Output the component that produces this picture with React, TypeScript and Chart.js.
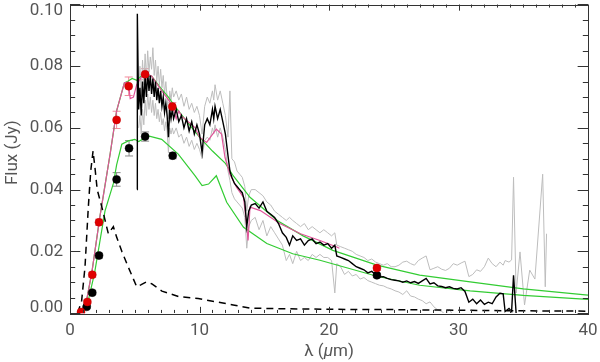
import React, { useEffect, useRef } from "react";
import { Chart, registerables } from "chart.js";
Chart.register(...registerables);

// ---- axis ticks ----
const xTickValues = [0, 10, 20, 30, 40];
const xTickLabels = ["0", "10", "20", "30", "40"];
const yTickValues = [0, 0.02, 0.04, 0.06, 0.08, 0.1];
const yTickLabels = ["0.00", "0.02", "0.04", "0.06", "0.08", "0.10"];
const xMinorStep = 1;
const yMinorStep = 0.005;
const xTitle = ["λ (", "μ", "m)"];
const yTitle = "Flux (Jy)";

// ---- IRS spectrum (black) with upper / lower envelopes (grey) ----
const specWave = [
  5.18, 5.2, 5.3, 5.4, 5.5, 5.6, 5.7, 5.8, 5.9, 6.0, 6.1, 6.2, 6.3, 6.4, 6.5, 6.6, 6.7, 6.8, 6.9, 7.0,
  7.1, 7.2, 7.3, 7.4, 7.5, 7.6, 7.7, 7.8, 7.9, 8.0, 8.2, 8.4, 8.6, 8.8, 9.0, 9.2, 9.4, 9.6, 9.8, 10.0,
  10.2, 10.4, 10.6, 10.8, 11.0, 11.1, 11.2, 11.4, 11.6, 11.8, 12.0, 12.2, 12.35, 12.5, 12.7, 12.9, 13.1, 13.3, 13.5, 13.65,
  13.8, 14.0, 14.3, 14.6, 14.9, 15.2, 15.5, 15.8, 16.1, 16.4, 16.7, 16.95, 17.2, 17.5, 17.8, 18.1, 18.4, 18.7, 19.0, 19.3,
  19.6, 19.9, 20.2, 20.45, 20.6, 20.9, 21.2, 21.5, 21.8, 22.1, 22.4, 22.7, 23.0, 23.3, 23.6, 23.9, 24.2, 24.5, 24.8, 25.1,
  25.4, 25.7, 26.0, 26.3, 26.6, 26.9, 27.2, 27.5, 27.8, 28.1, 28.4, 28.7, 29.0, 29.3, 29.6, 29.9, 30.2, 30.5, 30.8, 31.1,
  31.4, 31.7, 32.0, 32.3, 32.6, 32.9, 33.2, 33.45, 33.6, 33.9, 34.1, 34.25, 34.45, 34.75, 35.1, 35.5, 35.9, 36.5, 36.7, 36.8,
];
const specFlux = [
  0.040, 0.097, 0.066, 0.073, 0.064, 0.075, 0.068, 0.077, 0.070, 0.078, 0.072, 0.077, 0.071, 0.076, 0.070, 0.075, 0.069, 0.073, 0.068, 0.072,
  0.067, 0.070, 0.065, 0.068, 0.064, 0.057, 0.066, 0.063, 0.066, 0.063, 0.066, 0.062, 0.064, 0.060, 0.063, 0.059, 0.062, 0.058, 0.061, 0.058,
  0.052, 0.061, 0.063, 0.061, 0.066, 0.063, 0.067, 0.063, 0.066, 0.062, 0.058, 0.051, 0.046, 0.044, 0.042, 0.041, 0.040, 0.039, 0.036, 0.028,
  0.033, 0.035, 0.0355, 0.034, 0.036, 0.033, 0.032, 0.031, 0.029, 0.026, 0.0245, 0.022, 0.025, 0.0235, 0.024, 0.022, 0.0235, 0.024, 0.0225, 0.023,
  0.022, 0.0225, 0.021, 0.022, 0.0185, 0.018, 0.0175, 0.017, 0.016, 0.015, 0.0145, 0.014, 0.013, 0.0135, 0.0125, 0.0117, 0.0118, 0.0112, 0.0108, 0.0106,
  0.0104, 0.0100, 0.0104, 0.0098, 0.0102, 0.0096, 0.0104, 0.0112, 0.0094, 0.0098, 0.0088, 0.0086, 0.0082, 0.0085, 0.0080, 0.0078, 0.0082, 0.0070, 0.0035, 0.0045,
  0.0030, 0.0042, 0.0028, 0.0035, 0.0030, 0.0052, 0.0064, 0.0062, 0.0005, 0.0015, 0.0005, 0.0122, 0.0000, null, null, null, null, null, null, null,
];
const specUpper = [
  null, null, 0.072, 0.080, 0.070, 0.082, 0.074, 0.084, 0.076, 0.085, 0.078, 0.083, 0.079, 0.086, 0.077, 0.082, 0.075, 0.080, 0.074, 0.079,
  0.073, 0.077, 0.071, 0.075, 0.070, 0.063, 0.072, 0.069, 0.073, 0.070, 0.072, 0.069, 0.071, 0.067, 0.070, 0.066, 0.068, 0.065, 0.067, 0.064,
  0.058, 0.067, 0.070, 0.068, 0.072, 0.069, 0.074, 0.069, 0.072, 0.068, 0.064, 0.057, 0.072, 0.050, 0.049, 0.046, 0.045, 0.044, 0.041, 0.033,
  0.038, 0.040, 0.040, 0.039, 0.038, 0.036, 0.035, 0.033, 0.032, 0.031, 0.030, 0.031, 0.030, 0.029, 0.028, 0.029, 0.027, 0.028, 0.027, 0.026,
  0.027, 0.026, 0.025, 0.026, 0.022, 0.0215, 0.021, 0.0205, 0.020, 0.019, 0.0185, 0.018, 0.017, 0.0175, 0.0165, 0.016, 0.0155, 0.016, 0.015, 0.015,
  0.0155, 0.0165, 0.0168, 0.0160, 0.0155, 0.0170, 0.0178, 0.0185, 0.0140, 0.0145, 0.0150, 0.0142, 0.0138, 0.0145, 0.0160, 0.0155, 0.0162, 0.0168, 0.0118, 0.0125,
  0.0140, 0.0135, 0.0150, 0.0178, 0.0160, 0.0150, 0.0165, 0.0155, 0.0170, 0.0165, 0.0172, 0.0440, 0.0065, 0.0198, 0.0026, 0.0139, 0.0110, 0.0450, 0.0085, 0.0257,
];
const specLower = [
  null, null, 0.060, 0.064, 0.058, 0.066, 0.061, 0.069, 0.064, 0.071, 0.066, 0.070, 0.065, 0.069, 0.064, 0.068, 0.063, 0.066, 0.062, 0.065,
  0.061, 0.063, 0.059, 0.062, 0.059, 0.052, 0.060, 0.058, 0.060, 0.058, 0.060, 0.057, 0.058, 0.055, 0.057, 0.054, 0.056, 0.053, 0.055, 0.053,
  0.050, 0.056, 0.057, 0.056, 0.060, 0.058, 0.061, 0.057, 0.060, 0.057, 0.053, 0.046, 0.043, 0.039, 0.037, 0.036, 0.035, 0.034, 0.031, 0.021,
  0.028, 0.030, 0.031, 0.027, 0.030, 0.025, 0.028, 0.026, 0.024, 0.022, 0.017, 0.019, 0.016, 0.020, 0.017, 0.018, 0.017, 0.019, 0.018, 0.019,
  0.018, 0.018, 0.017, 0.0065, 0.016, 0.015, 0.0125, 0.0135, 0.012, 0.0125, 0.011, 0.0115, 0.0105, 0.010, 0.0095, 0.009, 0.0088, 0.0082, 0.0078, 0.0072,
  0.0068, 0.0060, 0.0072, 0.0055, 0.0052, 0.0045, 0.0040, 0.0030, 0.0036, 0.0020, 0.0010, 0.0005, -0.0005, 0.0012, -0.001, -0.002, -0.003, -0.003, -0.004, -0.003,
  -0.004, -0.003, -0.004, -0.003, -0.004, -0.003, -0.003, -0.004, -0.004, -0.003, -0.004, -0.003, -0.004, null, null, null, null, null, null, null,
];

// ---- model with PAH features (pink) ----
const pinkWave = [0.8, 1.3, 1.7, 2.3, 3.1, 3.6, 4.2, 4.5, 4.65, 4.9, 5.15, 5.7, 6.3, 7.1, 7.85, 8.0, 8.2, 8.4, 8.6, 9.65,
  10.0, 10.55, 11.3, 11.7, 11.97, 12.35, 12.87, 13.4, 13.6, 13.75, 13.9, 14.7, 16.2, 17.8, 19.3, 20.6, 20.8];
const pinkFlux = [0.0, 0.0045, 0.0135, 0.031, 0.0516, 0.0655, 0.0746, 0.0748, 0.0695, 0.070, 0.074, 0.0778, 0.0768, 0.0719, 0.0677, 0.066, 0.063, 0.0655, 0.0639, 0.0601,
  0.057, 0.0553, 0.0596, 0.058, 0.0504, 0.045, 0.0407, 0.0375, 0.030, 0.0235, 0.0343, 0.0332, 0.029, 0.0257, 0.0235, 0.0214, 0.021];

// ---- disk models (green) ----
const greenHiWave = [0.8, 1.3, 1.7, 2.3, 3.1, 3.6, 4.2, 4.5, 4.8, 5.15, 5.5, 6.3, 7.0, 7.6, 8.1, 9.0, 10.0, 11.0, 12.0, 12.6,
  13.9, 16.0, 18.0, 20.3, 23.7, 27.0, 30.9, 35.0, 40.0];
const greenHiFlux = [0.0, 0.0045, 0.0135, 0.031, 0.0516, 0.0655, 0.0746, 0.0752, 0.076, 0.0754, 0.0768, 0.0768, 0.073, 0.070, 0.067, 0.0622, 0.057, 0.0525, 0.0485, 0.0445,
  0.0375, 0.030, 0.025, 0.0203, 0.0155, 0.0123, 0.0101, 0.0078, 0.0058];
const greenLoWave = [0.9, 1.3, 1.9, 2.7, 3.35, 3.6, 4.0, 4.5, 5.0, 5.3, 6.05, 7.08, 8.36, 9.65, 10.2, 10.7, 11.3, 12.1, 13.4, 15.2,
  17.2, 19.3, 23.7, 27.0, 30.9, 35.0, 40.0];
const greenLoFlux = [0.0, 0.002, 0.013, 0.033, 0.042, 0.048, 0.0547, 0.0558, 0.0563, 0.0556, 0.0574, 0.0563, 0.0515, 0.0445, 0.0413, 0.0418, 0.0445, 0.0359, 0.0278, 0.0225,
  0.0192, 0.0171, 0.0119, 0.009, 0.0072, 0.0057, 0.0044];

// ---- stellar photosphere (dashed) ----
const starWave = [0.6, 0.9, 1.16, 1.41, 1.6, 1.78, 1.93, 2.1, 2.45, 2.96, 3.35, 3.6, 4.0, 4.5, 5.15, 5.5, 5.9, 6.3, 7.1, 8.4,
  9.9, 11.7, 12.6, 13.9, 16.0, 20.0, 25.0, 30.0, 35.0, 40.0];
const starFlux = [0.0, 0.004, 0.015, 0.034, 0.046, 0.0525, 0.047, 0.040, 0.0345, 0.0257, 0.028, 0.0246, 0.020, 0.0149, 0.0085, 0.0092, 0.0101, 0.0095, 0.0071, 0.0053,
  0.0047, 0.0033, 0.0026, 0.0016, 0.0014, 0.0012, 0.0011, 0.0009, 0.0007, 0.0006];

// ---- photometry ----
const redWave = [0.85, 1.34, 1.72, 2.24, 3.6, 4.53, 5.8, 7.9, 23.7];
const redFlux = [0.0003, 0.0036, 0.0124, 0.0294, 0.0626, 0.0735, 0.0774, 0.0669, 0.0146];
const redErr = [0.0004, 0.0006, 0.0008, 0.001, 0.0028, 0.003, 0.0018, 0.0013, 0.0008];
const blackWave = [1.29, 1.72, 2.24, 3.6, 4.56, 5.8, 7.93, 23.7];
const blackFlux = [0.002, 0.0066, 0.0186, 0.0433, 0.0534, 0.0572, 0.051, 0.0122];
const blackErr = [0.0004, 0.0006, 0.0008, 0.0022, 0.0025, 0.0015, 0.001, 0.0007];

const toXY = (xs: number[], ys: (number | null)[]) =>
  xs.map((x, i) => ({ x, y: ys[i] })).filter((p) => p.y !== null && p.y !== undefined);

const FONT = "17px Roboto, 'DejaVu Sans', sans-serif";
const TEXT = "#555";
const AXIS = "#333";

const idlAxes = {
  id: "idlAxes",
  beforeDatasetsDraw(chart: any) {
    const ctx = chart.ctx;
    const xs = chart.scales.x;
    const ys = chart.scales.y;
    const bars = (w: number[], f: number[], e: number[], col: string) => {
      ctx.save();
      ctx.strokeStyle = col;
      ctx.lineWidth = 1;
      for (let i = 0; i < w.length; i++) {
        const px = xs.getPixelForValue(w[i]);
        const p1 = ys.getPixelForValue(f[i] - e[i]);
        const p2 = ys.getPixelForValue(f[i] + e[i]);
        ctx.beginPath();
        ctx.moveTo(px, p1);
        ctx.lineTo(px, p2);
        ctx.moveTo(px - 4, p1);
        ctx.lineTo(px + 4, p1);
        ctx.moveTo(px - 4, p2);
        ctx.lineTo(px + 4, p2);
        ctx.stroke();
      }
      ctx.restore();
    };
    bars(redWave, redFlux, redErr, "#f08a9a");
    bars(blackWave, blackFlux, blackErr, "#8a8a8a");
  },
  afterDraw(chart: any) {
    const ctx = chart.ctx;
    const { left, right, top, bottom } = chart.chartArea;
    const xs = chart.scales.x;
    const ys = chart.scales.y;
    const w = right - left;
    const h = bottom - top;
    ctx.save();
    ctx.strokeStyle = AXIS;
    ctx.lineWidth = 1;
    ctx.strokeRect(Math.round(left) + 0.5, Math.round(top) + 0.5, Math.round(w), Math.round(h));
    // x ticks
    const xMaj = h * 0.02;
    ctx.beginPath();
    for (let v = xs.min; v <= xs.max + 1e-9; v += xMinorStep) {
      const major = xTickValues.some((t) => Math.abs(t - v) < 1e-6);
      const len = major ? xMaj : xMaj / 2;
      const px = Math.round(xs.getPixelForValue(v)) + 0.5;
      ctx.moveTo(px, bottom);
      ctx.lineTo(px, bottom - len);
      ctx.moveTo(px, top);
      ctx.lineTo(px, top + len);
    }
    // y ticks
    const yMaj = w * 0.02;
    for (let v = ys.min; v <= ys.max + 1e-9; v += yMinorStep) {
      const major = yTickValues.some((t) => Math.abs(t - v) < 1e-6);
      const len = major ? yMaj : yMaj / 2;
      const py = Math.round(ys.getPixelForValue(v)) + 0.5;
      ctx.moveTo(left, py);
      ctx.lineTo(left + len, py);
      ctx.moveTo(right, py);
      ctx.lineTo(right - len, py);
    }
    ctx.stroke();
    // labels
    ctx.fillStyle = TEXT;
    ctx.font = FONT;
    ctx.textBaseline = "middle";
    ctx.textAlign = "center";
    xTickValues.forEach((v, i) => {
      ctx.fillText(xTickLabels[i], xs.getPixelForValue(v), bottom + 18);
    });
    ctx.textAlign = "right";
    yTickValues.forEach((v, i) => {
      let py = ys.getPixelForValue(v);
      py = Math.min(Math.max(py, top + 6), bottom - 5);
      ctx.fillText(yTickLabels[i], left - 7, py);
    });
    // x title
    const cx = (left + right) / 2;
    const fonts = [FONT, "italic " + FONT, FONT];
    let total = 0;
    const widths = xTitle.map((p, i) => {
      ctx.font = fonts[i];
      const m = ctx.measureText(p).width;
      total += m;
      return m;
    });
    let x0 = cx - total / 2;
    ctx.textAlign = "left";
    xTitle.forEach((p, i) => {
      ctx.font = fonts[i];
      ctx.fillText(p, x0, bottom + 39);
      x0 += widths[i];
    });
    // y title
    ctx.font = FONT;
    ctx.textAlign = "center";
    ctx.translate(13, (top + bottom) / 2 - 6);
    ctx.rotate(-Math.PI / 2);
    ctx.fillText(yTitle, 0, 0);
    ctx.restore();
  },
};

export default function App() {
  const ref = useRef<HTMLCanvasElement | null>(null);
  useEffect(() => {
    document.body.style.margin = "0";
    const line = (data: any, color: string, width: number, order: number, extra: any = {}) => ({
      type: "scatter",
      data,
      showLine: true,
      borderColor: color,
      backgroundColor: color,
      borderWidth: width,
      pointRadius: 0,
      tension: 0,
      order,
      ...extra,
    });
    const chart = new Chart(ref.current as HTMLCanvasElement, {
      type: "scatter",
      data: {
        datasets: [
          {
            data: toXY(redWave, redFlux),
            pointRadius: 4,
            pointBackgroundColor: "#e00000",
            pointBorderColor: "#c00000",
            pointBorderWidth: 0.5,
            showLine: false,
            order: 0,
          },
          {
            data: toXY(blackWave, blackFlux),
            pointRadius: 4,
            pointBackgroundColor: "#000",
            pointBorderColor: "#000",
            pointBorderWidth: 0.5,
            showLine: false,
            order: 0,
          },
          line(toXY(starWave, starFlux), "#000", 1.5, 1, { borderDash: [7, 5] }),
          line(toXY(specWave, specFlux), "#000", 1.4, 2),
          line(toXY(pinkWave, pinkFlux), "#e0559a", 1.2, 3),
          line(toXY(greenHiWave, greenHiFlux), "#33cc33", 1.2, 4),
          line(toXY(greenLoWave, greenLoFlux), "#33cc33", 1.2, 4),
          line(toXY(specWave, specUpper), "#bdbdbd", 1, 5),
          line(toXY(specWave, specLower), "#bdbdbd", 1, 5),
        ] as any,
      },
      options: {
        animation: false,
        responsive: true,
        maintainAspectRatio: false,
        layout: { padding: { left: 70, right: 12, top: 4, bottom: 49 } },
        plugins: { legend: { display: false }, tooltip: { enabled: false } },
        scales: {
          x: { type: "linear", min: 0, max: 40, display: false },
          y: { type: "linear", min: 0, max: 0.1, display: false },
        },
      },
      plugins: [idlAxes],
    });
    return () => chart.destroy();
  }, []);
  return (
    <div style={{ width: 600, height: 362, position: "relative", background: "#fff" }}>
      <canvas ref={ref} />
    </div>
  );
}
